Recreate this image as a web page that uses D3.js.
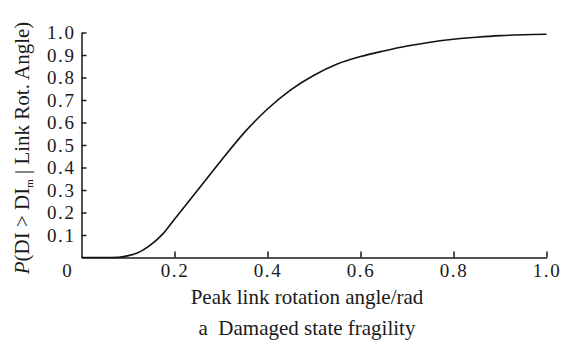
<!DOCTYPE html>
<html>
<head>
<meta charset="utf-8">
<script src="https://cdn.jsdelivr.net/npm/d3@7"></script>
<style>
  html, body { margin: 0; padding: 0; background: #fff; }
  svg { display: block; }
</style>
</head>
<body>
<svg id="chart" width="564" height="353"></svg>
<script>
// Values
const angles = [0.00, 0.05, 0.08, 0.10, 0.12, 0.15, 0.175, 0.20, 0.25, 0.30, 0.35, 0.40, 0.45, 0.50, 0.55, 0.60, 0.65, 0.70, 0.75, 0.80, 0.85, 0.90, 0.95, 1.00];
const probs  = [0.000, 0.000, 0.001, 0.008, 0.020, 0.058, 0.105, 0.170, 0.300, 0.430, 0.555, 0.660, 0.745, 0.810, 0.860, 0.893, 0.918, 0.940, 0.957, 0.970, 0.979, 0.986, 0.990, 0.992];
const xTicks = [0.2, 0.4, 0.6, 0.8, 1.0];
const yTicks = [0.1, 0.2, 0.3, 0.4, 0.5, 0.6, 0.7, 0.8, 0.9, 1.0];
const xTitle = "Peak link rotation angle/rad";
const caption = "a  Damaged state fragility";

const FONT = '"Liberation Serif", "Times New Roman", Tinos, serif';
const INK = "#1a1a1a";
const svg = d3.select("#chart");
const x = d3.scaleLinear().domain([0, 1]).range([81.5, 546.5]);
const y = d3.scaleLinear().domain([0, 1]).range([257.5, 32.5]);

const fs = 19;

// X axis
const gx = svg.append("g").attr("transform", `translate(0,${y(0)})`)
  .call(d3.axisBottom(x).tickValues(xTicks).tickFormat(d3.format(".1f"))
        .tickSizeInner(-6).tickSizeOuter(0).tickPadding(6));
// Y axis
const gy = svg.append("g").attr("transform", `translate(${x(0)},0)`)
  .call(d3.axisLeft(y).tickValues(yTicks).tickFormat(d3.format(".1f"))
        .tickSizeInner(-5).tickSizeOuter(0).tickPadding(6));

[gx, gy].forEach(g => {
  g.select(".domain").attr("stroke", INK).attr("stroke-width", 1.5);
  g.selectAll(".tick line").attr("stroke", INK).attr("stroke-width", 1.5);
  g.selectAll(".tick text").style("font-family", FONT).style("font-size", fs + "px")
    .style("letter-spacing", "1.6px").attr("fill", INK);
});

// Shared origin label
svg.append("text").attr("x", 67).attr("y", y(0) + 6).attr("dy", "0.71em")
  .attr("text-anchor", "middle").style("font-family", FONT).style("font-size", fs + "px")
  .attr("fill", INK).text("0");

// Curve
const line = d3.line().x((d, i) => x(angles[i])).y(d => y(d)).curve(d3.curveMonotoneX);
svg.append("path").datum(probs).attr("d", line)
  .attr("fill", "none").attr("stroke", "#111").attr("stroke-width", 1.6);

// X title & caption
svg.append("text").attr("x", 307).attr("y", 304).attr("text-anchor", "middle")
  .style("font-family", FONT).style("font-size", "21px").attr("fill", INK).text(xTitle);
svg.append("text").attr("x", 307).attr("y", 335).attr("text-anchor", "middle")
  .style("font-family", FONT).style("font-size", "21px").style("white-space", "pre")
  .attr("fill", INK).text(caption);

// Y title
const yt = svg.append("text").attr("transform", "translate(29,148) rotate(-90)")
  .attr("text-anchor", "middle").style("font-family", FONT).style("font-size", "21px").attr("fill", INK);
yt.append("tspan").style("font-style", "italic").text("P");
yt.append("tspan").text("(DI > DI");
yt.append("tspan").style("font-size", "11px").attr("dy", 4).text("m");
yt.append("tspan").attr("dy", -4).text(" | Link Rot. Angle)");
</script>
</body>
</html>
